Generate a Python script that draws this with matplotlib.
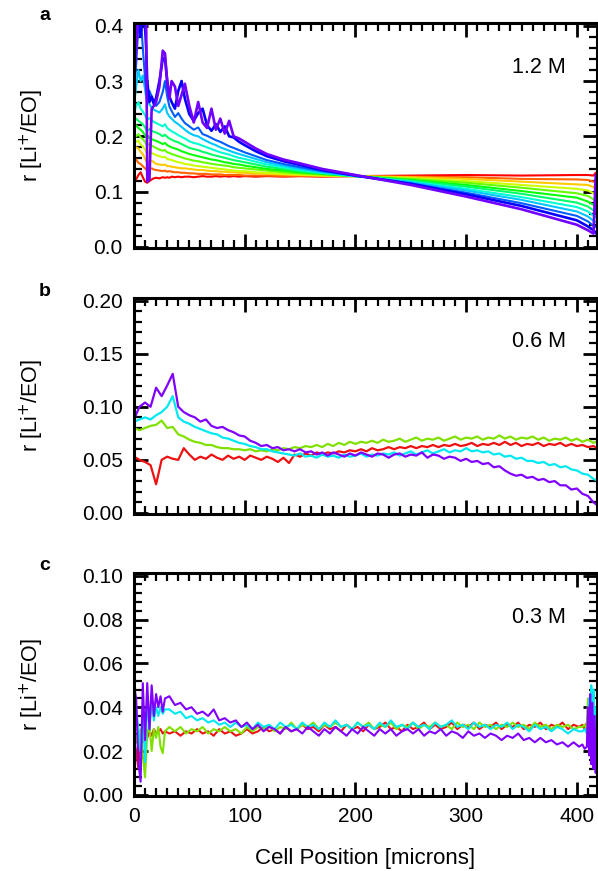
import numpy as np
import matplotlib
matplotlib.use("Agg")
import matplotlib.pyplot as plt
from matplotlib.ticker import MultipleLocator, AutoMinorLocator, FormatStrFormatter

plt.rcParams['font.family'] = ['Liberation Sans', 'DejaVu Sans']

# ---- panel a: 1.2 M, twelve time steps (red = first, violet = last)
xa = [0, 2, 4, 6, 8, 10, 11, 12, 14, 16,
      18, 20, 23, 26, 28, 30, 32, 34, 37, 40,
      43, 46, 50, 54, 58, 62, 66, 70, 74, 78,
      82, 86, 90, 95, 100, 110, 120, 135, 150, 170,
      200, 250, 300, 350, 400, 410, 415, 417, 419, 420]

ra_0 = [.120, .122, .130, .135, .126, .118, .117, .116, .119, .122,
        .124, .125, .124, .126, .125, .126, .125, .127, .126, .127,
        .126, .127, .127, .126, .127, .128, .127, .127, .128, .127,
        .128, .127, .128, .127, .128, .127, .128, .127, .128, .127,
        .128, .129, .130, .129, .130, .130, .129, .134, .120, .124]
ra_1 = [.160, .158, .152, .150, .146, .142, .140, .139, .141, .142,
        .140, .139, .138, .137, .138, .136, .137, .136, .135, .135,
        .134, .134, .133, .133, .132, .132, .132, .131, .131, .131,
        .130, .130, .130, .130, .129, .129, .129, .128, .128, .128,
        .128, .127, .126, .123, .122, .121, .118, .117, .116, .116]
ra_2 = [.182, .180, .178, .172, .168, .160, .155, .150, .154, .156,
        .153, .150, .149, .148, .149, .146, .146, .145, .144, .143,
        .142, .142, .141, .140, .139, .139, .138, .137, .137, .136,
        .136, .135, .135, .134, .134, .133, .132, .131, .130, .129,
        .128, .126, .123, .118, .113, .112, .108, .106, .105, .105]
ra_3 = [.195, .190, .192, .185, .182, .176, .172, .170, .172, .170,
        .168, .166, .164, .162, .163, .159, .158, .157, .155, .153,
        .152, .150, .149, .147, .146, .145, .144, .143, .142, .141,
        .140, .139, .138, .137, .137, .135, .134, .132, .131, .129,
        .128, .124, .119, .112, .105, .102, .097, .095, .094, .094]
ra_4 = [.205, .200, .204, .198, .195, .190, .186, .184, .186, .183,
        .181, .179, .176, .174, .175, .171, .170, .168, .166, .164,
        .162, .160, .158, .156, .155, .153, .152, .150, .149, .148,
        .147, .146, .144, .143, .142, .140, .138, .135, .133, .131,
        .128, .123, .116, .107, .097, .092, .086, .084, .083, .083]
ra_5 = [.215, .220, .215, .212, .208, .202, .198, .196, .198, .195,
        .193, .192, .189, .186, .188, .184, .182, .180, .178, .176,
        .173, .171, .168, .166, .164, .162, .160, .158, .157, .155,
        .153, .152, .150, .149, .147, .144, .141, .138, .135, .132,
        .128, .121, .112, .101, .089, .082, .076, .074, .073, .073]
ra_6 = [.225, .232, .228, .225, .222, .216, .212, .210, .213, .210,
        .208, .207, .204, .200, .203, .199, .196, .194, .191, .189,
        .186, .183, .179, .177, .175, .172, .170, .167, .165, .163,
        .161, .159, .157, .155, .153, .149, .145, .141, .137, .133,
        .128, .120, .109, .096, .080, .073, .066, .064, .063, .063]
ra_7 = [.240, .255, .262, .250, .245, .238, .234, .230, .233, .229,
        .226, .224, .221, .218, .222, .215, .212, .209, .206, .202,
        .199, .196, .191, .188, .186, .183, .180, .177, .174, .171,
        .169, .167, .164, .161, .159, .154, .149, .144, .139, .134,
        .128, .118, .105, .090, .072, .064, .056, .054, .053, .053]
ra_8 = [.255, .290, .320, .300, .310, .285, .270, .262, .258, .252,
        .248, .246, .243, .250, .258, .242, .236, .232, .226, .222,
        .217, .212, .206, .202, .200, .195, .191, .187, .184, .180,
        .177, .174, .171, .168, .165, .159, .153, .147, .141, .135,
        .128, .117, .102, .085, .064, .055, .047, .045, .044, .044]
ra_9 = [.280, .330, .400, .420, .360, .305, .285, .275, .282, .272,
        .262, .255, .262, .280, .300, .272, .254, .246, .235, .242,
        .232, .224, .218, .212, .216, .204, .201, .197, .193, .190,
        .186, .182, .179, .175, .171, .164, .157, .150, .144, .137,
        .129, .115, .098, .079, .056, .046, .038, .036, .035, .035]
ra_10 = [.300, .400, .420, .380, .420, .400, .360, .300, .262, .272,
         .258, .270, .300, .340, .342, .300, .272, .262, .250, .282,
         .300, .268, .240, .228, .242, .250, .220, .210, .222, .208,
         .218, .200, .198, .190, .184, .173, .164, .155, .148, .139,
         .129, .114, .095, .074, .048, .037, .030, .026, .020, .018]
ra_11 = [.300, .360, .420, .420, .420, .420, .420, .118, .122, .250,
         .255, .262, .290, .355, .350, .300, .268, .300, .290, .255,
         .275, .295, .255, .225, .262, .225, .215, .250, .212, .232,
         .205, .228, .200, .196, .190, .178, .168, .158, .151, .141,
         .130, .112, .091, .068, .040, .030, .024, .130, .018, .015]
curves_a = [ra_0, ra_1, ra_2, ra_3, ra_4, ra_5, ra_6, ra_7, ra_8, ra_9, ra_10, ra_11]

# ---- panel b: 0.6 M, sampled every 5 microns
xb = np.arange(0, 421, 5)
rb_red = [.053, .050, .048, .045, .027, .050, .053, .051, .050, .061,
          .055, .050, .053, .051, .055, .052, .050, .054, .051, .053,
          .050, .054, .052, .050, .053, .051, .048, .052, .047, .055,
          .053, .056, .054, .057, .055, .057, .056, .058, .057, .059,
          .058, .060, .058, .061, .059, .060, .062, .060, .062, .061,
          .063, .061, .063, .062, .064, .062, .064, .063, .065, .063,
          .064, .066, .063, .065, .064, .066, .064, .067, .064, .066,
          .063, .065, .064, .066, .063, .065, .064, .066, .063, .065,
          .063, .064, .062, .063, .060]
rb_green = [.080, .078, .080, .082, .083, .087, .080, .081, .074, .072,
            .069, .067, .066, .064, .064, .062, .061, .061, .060, .060,
            .059, .060, .058, .059, .058, .060, .059, .061, .060, .062,
            .061, .063, .062, .064, .062, .065, .063, .066, .064, .067,
            .065, .067, .066, .068, .066, .069, .067, .068, .070, .067,
            .069, .071, .068, .070, .069, .071, .068, .070, .072, .069,
            .071, .070, .072, .069, .071, .070, .073, .070, .072, .069,
            .071, .070, .072, .069, .071, .068, .070, .069, .071, .068,
            .070, .067, .069, .066, .068]
rb_cyan = [.086, .088, .090, .088, .092, .095, .100, .110, .090, .086,
           .084, .081, .079, .077, .075, .074, .071, .070, .068, .066,
           .065, .063, .062, .060, .060, .058, .057, .056, .055, .054,
           .056, .053, .054, .052, .055, .053, .054, .052, .055, .053,
           .054, .056, .053, .055, .054, .056, .055, .057, .054, .056,
           .058, .055, .057, .059, .056, .058, .060, .057, .059, .058,
           .061, .058, .059, .057, .058, .055, .056, .053, .054, .051,
           .052, .049, .049, .047, .048, .045, .046, .043, .044, .041,
           .040, .037, .036, .032, .030]
rb_violet = [.088, .100, .104, .100, .118, .110, .120, .131, .100, .095,
             .092, .090, .086, .088, .082, .080, .081, .078, .076, .073,
             .072, .068, .066, .063, .064, .061, .062, .059, .060, .058,
             .060, .057, .058, .055, .057, .054, .057, .055, .053, .056,
             .054, .057, .055, .053, .056, .055, .052, .055, .056, .053,
             .055, .054, .057, .052, .055, .054, .051, .053, .052, .049,
             .051, .048, .049, .046, .047, .043, .044, .040, .037, .035,
             .036, .033, .034, .031, .032, .029, .030, .026, .026, .022,
             .023, .018, .016, .010, .006]

# ---- panel c: 0.3 M, finer sampling near both electrodes
xc = (list(range(0, 29, 2)) + list(range(32, 403, 5))
      + [405, 407, 409, 410, 411, 412, 413, 414, 415, 416, 417, 418, 419, 420])
rc_red = [.025, .020, .012, .028, .024, .030, .026, .029, .027, .030, .028, .029, .030, .028, .029,
          .028, .029, .027, .029, .028, .030, .028,
          .029, .027, .030, .028, .029, .027, .028, .030, .028, .029,
          .031, .029, .030, .028, .031, .029, .030, .032, .030, .031,
          .029, .032, .030, .031, .029, .032, .030, .031, .029, .032,
          .030, .031, .033, .030, .031, .029, .032, .030, .031, .033,
          .030, .032, .030, .031, .033, .030, .032, .031, .033, .030,
          .032, .031, .033, .030, .032, .031, .033, .030, .032, .031,
          .033, .030, .032, .031, .033, .030, .032, .031,
          .032, .030, .033, .031, .030, .032, .029, .031, .030, .031, .029, .030, .029, .030]
rc_green = [.030, .026, .022, .030, .018, .008, .028, .032, .020, .030, .026, .031, .022, .019, .029,
            .031, .029, .031, .028, .030, .029, .031,
            .028, .030, .029, .031, .029, .030, .028, .031, .029, .031,
            .030, .032, .029, .031, .030, .033, .030, .032, .031, .033,
            .030, .032, .031, .033, .031, .032, .030, .033, .031, .033,
            .030, .032, .031, .033, .030, .032, .031, .033, .030, .032,
            .031, .033, .031, .032, .030, .033, .031, .032, .030, .033,
            .031, .032, .030, .032, .031, .033, .031, .032, .030, .033,
            .031, .032, .030, .032, .031, .032, .030, .031,
            .031, .032, .030, .044, .028, .034, .030, .033, .031, .032, .030, .031, .030, .031]
rc_cyan = [.045, .040, .030, .020, .038, .015, .044, .030, .042, .034, .040, .036, .040, .037, .039,
           .039, .037, .038, .035, .036, .034, .035,
           .033, .034, .032, .033, .031, .033, .031, .032, .030, .033,
           .031, .032, .030, .033, .031, .032, .030, .033, .031, .032,
           .030, .033, .031, .034, .031, .032, .030, .033, .031, .032,
           .030, .033, .031, .034, .031, .032, .030, .033, .031, .032,
           .030, .033, .031, .032, .034, .031, .032, .030, .033, .031,
           .032, .030, .032, .031, .033, .030, .032, .031, .029, .032,
           .030, .031, .029, .031, .030, .028, .030, .029,
           .029, .030, .028, .030, .044, .026, .050, .030, .048, .022, .040, .020, .035, .030]
rc_violet = [.050, .044, .015, .006, .051, .025, .051, .030, .050, .036, .046, .040, .045, .038, .044,
             .045, .041, .042, .039, .040, .037, .038,
             .036, .039, .034, .035, .033, .034, .031, .033, .030, .032,
             .029, .031, .030, .028, .031, .029, .030, .028, .031, .029,
             .027, .030, .028, .031, .029, .027, .030, .028, .031, .029,
             .027, .030, .028, .030, .027, .029, .030, .028, .030, .027,
             .029, .028, .030, .027, .029, .028, .026, .029, .027, .028,
             .026, .028, .027, .025, .027, .026, .028, .025, .026, .024,
             .026, .024, .025, .023, .024, .022, .024, .022,
             .023, .021, .022, .040, .018, .046, .014, .042, .012, .036, .010, .030, .012, .020]

conc_labels = ['1.2 M', '0.6 M', '0.3 M']
panel_letters = ['a', 'b', 'c']

four_colors = ['#ee1111', '#80e000', '#00e8f0', '#8000ff']

fig = plt.figure(figsize=(5.98, 8.71), dpi=100)
ax_a = fig.add_axes([0.224, 0.7153, 0.774, 0.2583])
ax_b = fig.add_axes([0.224, 0.4099, 0.774, 0.2480])
ax_c = fig.add_axes([0.224, 0.0861, 0.774, 0.2560])

colors_a = plt.cm.hsv(np.linspace(0, 0.75, len(curves_a)))
for i, (ys, col) in enumerate(zip(curves_a, colors_a)):
    lw = 1.9 if i >= 10 else 1.5
    ax_a.plot(xa, ys, color=col, lw=lw)

for ys, col in zip([rb_red, rb_green, rb_cyan, rb_violet], four_colors):
    ax_b.plot(xb, ys, color=col, lw=1.6)

for ys, col in zip([rc_red, rc_green, rc_cyan, rc_violet], four_colors):
    ax_c.plot(xc, ys, color=col, lw=1.5)


def style_axis(ax, ylim, ystep, fmt):
    ax.set_xlim(0, 418)
    ax.set_ylim(*ylim)
    ax.xaxis.set_major_locator(MultipleLocator(100))
    ax.xaxis.set_minor_locator(MultipleLocator(10))
    ax.yaxis.set_major_locator(MultipleLocator(ystep))
    ax.yaxis.set_minor_locator(AutoMinorLocator(5))
    ax.yaxis.set_major_formatter(FormatStrFormatter(fmt))
    ax.tick_params(which='both', direction='in', top=True, right=True,
                   labelsize=15, pad=8)
    ax.tick_params(which='major', length=10, width=2)
    ax.tick_params(which='minor', length=5.5, width=1.6)
    for s in ax.spines.values():
        s.set_linewidth(2.2)
    ax.set_ylabel('r [Li$^{+}$/EO]', fontsize=15.5)
    ax.yaxis.set_label_coords(-0.19, 0.5)


style_axis(ax_a, (-0.002, 0.405), 0.1, '%.1f')
style_axis(ax_b, (-0.001, 0.2025), 0.05, '%.2f')
style_axis(ax_c, (-0.0005, 0.1012), 0.02, '%.2f')
ax_a.tick_params(labelbottom=False)
ax_b.tick_params(labelbottom=False)
ax_c.set_xlabel('Cell Position [microns]', fontsize=16, labelpad=16)

for ax, lab in zip([ax_a, ax_b, ax_c], conc_labels):
    ax.text(0.875, 0.80, lab, transform=ax.transAxes, ha='center', va='center',
            fontsize=15.5)

for ax, letter in zip([ax_a, ax_b, ax_c], panel_letters):
    ax.text(-0.192, 1.032, letter, transform=ax.transAxes, ha='center', va='center',
            fontsize=14, fontweight='bold')

fig.savefig('out.png', dpi=100)
